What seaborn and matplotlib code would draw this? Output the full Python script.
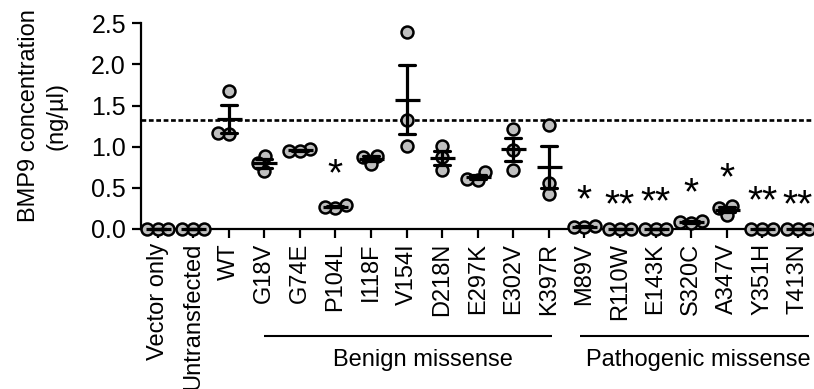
import numpy as np
import pandas as pd
import matplotlib
matplotlib.use("Agg")
import matplotlib.pyplot as plt
import matplotlib.transforms as mtransforms
import seaborn as sns

# ---------------- data ----------------
categories = ["Vector only", "Untransfected", "WT", "G18V", "G74E", "P104L",
              "I118F", "V154I", "D218N", "E297K", "E302V", "K397R",
              "M89V", "R110W", "E143K", "S320C", "A347V", "Y351H", "T413N"]
rep1 = [0.00, 0.00, 1.68, 0.89, 0.97, 0.29, 0.89, 2.39, 1.01, 0.69, 1.22, 1.27,
        0.04, 0.00, 0.00, 0.10, 0.28, 0.00, 0.00]
rep2 = [0.00, 0.00, 1.16, 0.70, 0.95, 0.26, 0.79, 1.32, 0.72, 0.60, 0.96, 0.43,
        0.02, 0.00, 0.00, 0.07, 0.17, 0.00, 0.00]
rep3 = [0.00, 0.00, 1.17, 0.80, 0.95, 0.27, 0.88, 1.01, 0.87, 0.61, 0.72, 0.56,
        0.03, 0.00, 0.00, 0.08, 0.26, 0.00, 0.00]
star_labels = ["", "", "", "", "", "*", "", "", "", "", "", "",
               "*", "**", "**", "*", "*", "**", "**"]
star_y = [0, 0, 0, 0, 0, 0.80, 0, 0, 0, 0, 0, 0,
          0.485, 0.425, 0.46, 0.57, 0.755, 0.47, 0.43]
reference_value = 1.32
group_names = ["Benign missense", "Pathogenic missense"]
group_first = ["G18V", "M89V"]
group_last = ["K397R", "T413N"]
y_ticks = [0.0, 0.5, 1.0, 1.5, 2.0, 2.5]
y_label = "BMP9 concentration\n(ng/µl)"

df = pd.DataFrame({
    "cat": np.repeat(categories, 3),
    "val": np.ravel(np.column_stack([rep1, rep2, rep3])),
})

# ---------------- style ----------------
sns.set_style("ticks")
plt.rcParams["font.family"] = ["Liberation Sans", "DejaVu Sans"]
plt.rcParams["text.color"] = "black"
plt.rcParams["axes.labelcolor"] = "black"
plt.rcParams["xtick.color"] = "black"
plt.rcParams["ytick.color"] = "black"
FS = 17
LW = 1.6

fig = plt.figure(figsize=(8.14, 3.89), dpi=100)
ax = fig.add_axes([141 / 814, (389 - 229) / 389, (811 - 141) / 814, (229 - 23.3) / 389])

sns.swarmplot(data=df, x="cat", y="val", order=categories, size=5.6,
              color="#bfbfbf", edgecolor="black", linewidth=1.8, ax=ax, zorder=3)
swarm_colls = list(ax.collections)

n_lines_before = len(ax.lines)
sns.pointplot(data=df, x="cat", y="val", order=categories, errorbar="se",
              capsize=0.45, markers="_", linestyles="none", color="black",
              markersize=18, markeredgewidth=2.3,
              err_kws={"linewidth": 2.3}, ax=ax)
for ln in ax.lines[n_lines_before:]:
    ln.set_zorder(5)
    ln.set_clip_on(False)

ax.axhline(reference_value, color="black", lw=1.9, linestyle=(0, (1.8, 1.0)),
           zorder=1, clip_on=False)

xl = (-0.464, 18.37)
ax.set_xlim(*xl)
ax.set_ylim(0, 2.5)
ax.set_yticks(y_ticks)
ax.set_yticklabels([f"{t:.1f}" for t in y_ticks], fontsize=18)
ax.set_xticks(range(len(categories)))
ax.set_xticklabels(categories, rotation=90, fontsize=FS)
ax.set_xlabel("")
ax.set_ylabel(y_label, fontsize=FS, linespacing=1.3, ma="center", color="black")
ax.yaxis.set_label_coords(-0.110, 0.55)
for s in ["top", "right"]:
    ax.spines[s].set_visible(False)
for s in ["left", "bottom"]:
    ax.spines[s].set_linewidth(LW)
    ax.spines[s].set_color("black")
    ax.spines[s].set_zorder(2)
ax.tick_params(axis="both", length=6.5, width=LW, color="black", labelcolor="black")
ax.tick_params(axis="x", pad=3.5)
ax.tick_params(axis="y", pad=4.3)

# compute swarm positions, then enlarge markers so they overlap like the original
fig.canvas.draw()
for coll in swarm_colls:
    if "draw" in coll.__dict__:
        del coll.draw
    coll.set_sizes([(8.6) ** 2])
    coll.set_clip_on(False)
ax.set_xlim(*xl)
ax.set_ylim(0, 2.5)

# significance stars
STAR_FS = 28
for i, (lab, yv) in enumerate(zip(star_labels, star_y)):
    if lab:
        ax.annotate(lab, (i, yv), xytext=(0, -0.575 * STAR_FS), textcoords="offset points",
                    ha="center", va="baseline", fontsize=STAR_FS, color="black",
                    annotation_clip=False)

# group brackets
trans = mtransforms.blended_transform_factory(ax.transData, fig.transFigure)
line_y = (389 - 336) / 389
text_y = (389 - 365.7) / 389
pads = [(0.0, 0.1), (-0.12, 0.3)]
text_shift = [0.4, 0.1]
for name, a, b, (pl, pr), sh in zip(group_names, group_first, group_last, pads, text_shift):
    i0, i1 = categories.index(a), categories.index(b)
    ax.plot([i0 + pl, i1 + pr], [line_y, line_y], transform=trans, color="black",
            lw=1.5, clip_on=False, solid_capstyle="butt")
    ax.text((i0 + pl + i1 + pr) / 2 + sh, text_y, name, transform=trans, ha="center",
            va="baseline", fontsize=FS, color="black")

fig.savefig("out.png", dpi=100)
